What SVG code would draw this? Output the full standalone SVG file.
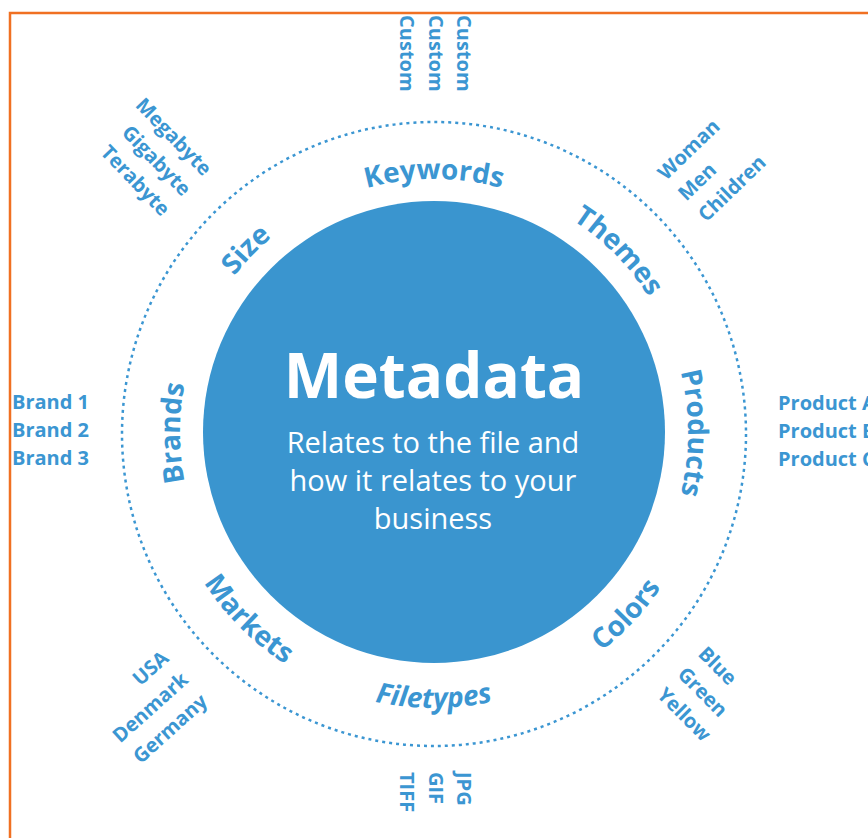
<svg xmlns="http://www.w3.org/2000/svg" width="868" height="838" viewBox="0 0 868 838">
<style>
.lbl{font-family:"Open Sans","Liberation Sans",sans-serif;font-weight:700;font-size:28px;fill:#3b96d2}
.lst{font-family:"Open Sans","Liberation Sans",sans-serif;font-weight:700;font-size:20px;fill:#3b96d2}
.ttl{font-family:"Open Sans","Liberation Sans",sans-serif;font-weight:700;font-size:62px;fill:#ffffff}
.sub{font-family:"Open Sans","Liberation Sans",sans-serif;font-weight:400;font-size:29px;fill:#ffffff}
.ring{fill:none;stroke:#3b96d2;stroke-width:2.5;stroke-dasharray:3 4}
</style>
<defs>
<path id="cw" d="M434,687 A254,254 0 1 1 434,179 A254,254 0 1 1 434,687"/>
<path id="ccw" d="M434,160 A274,274 0 1 0 434,708 A274,274 0 1 0 434,160"/>
</defs>
<rect x="0" y="0" width="868" height="838" fill="#ffffff"/>
<path d="M10,838 V13 H868" fill="none" stroke="#f07022" stroke-width="2.5"/>
<g id="connectors">
<circle class="ring" cx="434" cy="434" r="312"/>
</g>
<g id="metadata">
<circle cx="434" cy="432" r="231" fill="#3a95cf"/>
<text class="ttl" x="434" y="398" text-anchor="middle">Metadata</text>
<text class="sub" x="433" y="453" text-anchor="middle">Relates to the file and</text>
<text class="sub" x="433" y="491" text-anchor="middle">how it relates to your</text>
<text class="sub" x="433" y="529" text-anchor="middle">business</text>
</g>
<g id="keywords"><text class="lbl" text-anchor="middle"><textPath href="#cw" startOffset="50%">Keywords</textPath></text></g>
<g id="size"><text class="lbl" text-anchor="middle"><textPath href="#cw" startOffset="37.3%">Size</textPath></text></g>
<g id="themes"><text class="lbl" text-anchor="middle"><textPath href="#cw" startOffset="62.6%">Themes</textPath></text></g>
<g id="products"><text class="lbl" text-anchor="middle"><textPath href="#cw" startOffset="75%">Products</textPath></text></g>
<g id="brands"><text class="lbl" text-anchor="middle"><textPath href="#cw" startOffset="25%">Brands</textPath></text></g>
<g id="filetypes"><text class="lbl" text-anchor="middle" font-style="italic"><textPath href="#ccw" startOffset="50%">Filetypes</textPath></text></g>
<g id="markets"><text class="lbl" text-anchor="middle"><textPath href="#ccw" startOffset="37.5%">Markets</textPath></text></g>
<g id="colors"><text class="lbl" text-anchor="middle"><textPath href="#ccw" startOffset="63%">Colors</textPath></text></g>
<g id="custom-list" transform="translate(457,15) rotate(90)">
<text class="lst" x="0" y="0">Custom</text>
<text class="lst" x="0" y="28.5">Custom</text>
<text class="lst" x="0" y="57">Custom</text>
</g>
<g id="size-list" transform="translate(203,177) rotate(46)">
<text class="lst" x="0" y="0" text-anchor="end">Megabyte</text>
<text class="lst" x="0" y="29" text-anchor="end">Gigabyte</text>
<text class="lst" x="0" y="58" text-anchor="end">Terabyte</text>
</g>
<g id="themes-list" transform="translate(666,181) rotate(-44)">
<text class="lst" x="0" y="0">Woman</text>
<text class="lst" x="0" y="29">Men</text>
<text class="lst" x="0" y="58">Children</text>
</g>
<g id="brands-list">
<text class="lst" x="12" y="409">Brand 1</text>
<text class="lst" x="12" y="437">Brand 2</text>
<text class="lst" x="12" y="465">Brand 3</text>
</g>
<g id="products-list">
<text class="lst" x="778" y="410">Product A</text>
<text class="lst" x="778" y="438">Product B</text>
<text class="lst" x="778" y="466">Product C</text>
</g>
<g id="markets-list" transform="translate(170,660) rotate(-42)">
<text class="lst" x="0" y="0" text-anchor="end">USA</text>
<text class="lst" x="0" y="29" text-anchor="end">Denmark</text>
<text class="lst" x="0" y="58" text-anchor="end">Germany</text>
</g>
<g id="colors-list" transform="translate(697,655) rotate(45)">
<text class="lst" x="0" y="0">Blue</text>
<text class="lst" x="0" y="29">Green</text>
<text class="lst" x="0" y="58">Yellow</text>
</g>
<g id="filetypes-list" transform="translate(457,772) rotate(90)">
<text class="lst" x="0" y="0">JPG</text>
<text class="lst" x="0" y="28.5">GIF</text>
<text class="lst" x="0" y="57">TIFF</text>
</g>
</svg>
